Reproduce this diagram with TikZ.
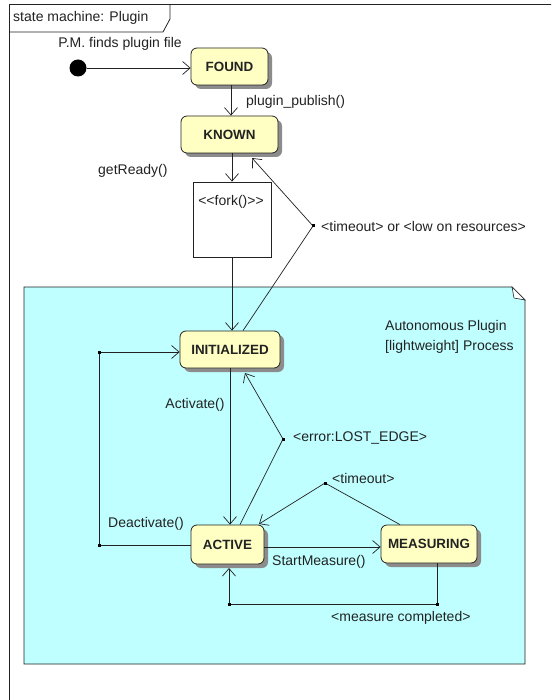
\documentclass[tikz,border=0pt]{standalone}
\usepackage{fontspec}
\setmainfont{Liberation Sans}
\usetikzlibrary{arrows.meta,shadows}
\definecolor{statefill}{HTML}{FFFFC4}
\definecolor{procfill}{HTML}{BFFFFF}
\definecolor{ink}{HTML}{222222}
\begin{document}
\begin{tikzpicture}[x=1pt,y=-1pt,
  every node/.style={font=\fontsize{14}{16}\selectfont, text=ink},
  umlstate/.style={draw=ink, fill=statefill, rounded corners=6pt, line width=0.8pt,
    minimum height=37pt, inner sep=0pt, font=\fontsize{13.4}{15}\selectfont\bfseries,
    drop shadow={shadow xshift=4pt, shadow yshift=-4pt, fill=black!45, opacity=1}},
  trans/.style={draw=ink, line width=0.7pt, -{Straight Barb[length=7.5pt,width=13pt]}},
  link/.style={draw=ink, line width=0.7pt},
  lbl/.style={inner sep=0pt, anchor=west},
  junc/.style={fill=black, inner sep=0pt, minimum size=3pt},
]
\useasboundingbox (0,0) rectangle (551,700);
\fill[white] (0,0) rectangle (551,700);

% outer frame and its name tab
\begin{scope}
  \clip (0,0) rectangle (551,700);
  \draw[ink, line width=1pt] (9,720) -- (9,5) -- (570,5);
\end{scope}
\draw[ink, line width=0.8pt] (9,32) -- (163,32) -- (170,19) -- (170,5);
\node[lbl] (title) at (13,18) {state machine: Plugin};

% composite region of the plugin process
\draw[ink, line width=0.8pt, fill=procfill]
  (24,287) -- (512,287) -- (525,300) -- (525,664) -- (24,664) -- cycle;
\draw[ink, line width=0.6pt, fill=white] (512,287) -- (525,300) -- (514,298) -- cycle;
\node[lbl] (proc1) at (385,327) {Autonomous Plugin};
\node[lbl] (proc2) at (385,347) {[lightweight] Process};

% states
\node[circle, fill=black, minimum size=17pt, inner sep=0pt] (start) at (78,68) {};
\node[umlstate, minimum width=77pt] (found) at (229.5,66.5) {FOUND};
\node[umlstate, minimum width=97pt] (known) at (229.5,134.5) {KNOWN};
\node[draw=ink, fill=white, line width=0.8pt, minimum width=78pt, minimum height=75pt,
  inner sep=0pt] (fork) at (232,219.5) {};
\node (forklbl) at (231,202) {<{}<fork()>{}>};
\node[umlstate, minimum width=100pt] (init) at (230,349.5) {INITIALIZED};
\node[umlstate, minimum width=73pt, minimum height=39pt] (active) at (227.5,544.5) {ACTIVE};
\node[umlstate, minimum width=96pt, minimum height=38pt] (meas) at (429,544) {MEASURING};

% junction points
\coordinate (j1) at (313,226);
\coordinate (j2) at (283,439);
\coordinate (j3) at (325,483);
\coordinate (j4) at (99,352);
\coordinate (j5) at (99,545);
\coordinate (j6) at (437,604);
\coordinate (j7) at (229,604);
\coordinate (knownbot) at (252,158);
\coordinate (initbot) at (245,373);
\coordinate (activetop) at (259,524);
\coordinate (activebot) at (229,568);

% transitions
\draw[trans] (start.east) -- (found.west |- start);
\node[anchor=center, inner sep=0pt] (pmlbl) at (120,44) {P.M. finds plugin file};

\draw[trans] ([xshift=1.5pt]found.south) -- ([xshift=1.5pt]known.north);
\node[lbl] (publbl) at (246,102) {plugin\_publish()};

\draw[trans] (known.south -| fork.north) -- (fork.north);
\node[lbl] (readylbl) at (98,171) {getReady()};

\draw[trans] (fork.south) -- (fork.south |- init.north);

\draw[link] ([xshift=13pt]init.north) -- (j1);
\draw[trans] (j1) -- (knownbot);
\node[lbl] (tolbl) at (321,226) {<timeout> or <low on resources>};

\draw[trans] (init.south) -- (init.south |- active.north);
\node[anchor=center, inner sep=0pt] (actlbl) at (195,405) {Activate()};

\draw[link] ([xshift=12.5pt]active.north) -- (j2);
\draw[trans] (j2) -- (initbot);
\node[lbl] (errlbl) at (293,438) {<error:LOST\_EDGE>};

\draw[link] ([xshift=-29pt]meas.north) -- (j3);
\draw[trans] (j3) -- (activetop);
\node[lbl] (to2lbl) at (332,478) {<timeout>};

\draw[link] (active.west |- j5) -- (j5) -- (j4);
\draw[trans] (j4) -- (init.west |- j4);
\node[lbl] (deactlbl) at (108,524) {Deactivate()};

\draw[trans] (active.east |- 0,547) -- (meas.west |- 0,547);
\node[lbl] (smlbl) at (272,562) {StartMeasure()};

\draw[link] (meas.south -| j6) -- (j6) -- (j7);
\draw[trans] (j7) -- (activebot);
\node[lbl] (mclbl) at (331,618) {<measure completed>};

% junction dots
\foreach \j in {j1,j2,j3,j4,j5,j6,j7}
  \node[junc] at (\j) {};
\end{tikzpicture}
\end{document}
